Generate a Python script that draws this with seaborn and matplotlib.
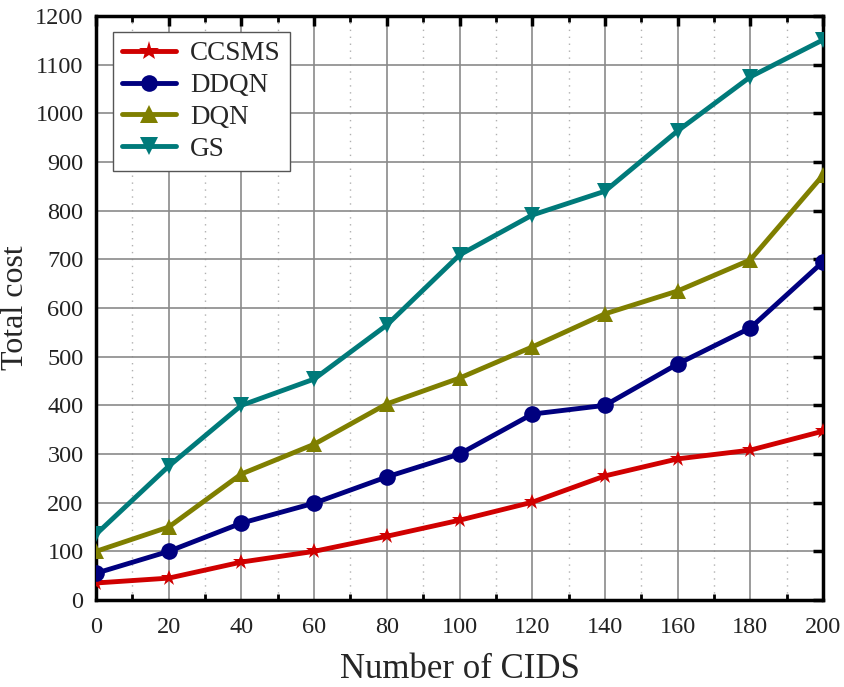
import numpy as np
import pandas as pd
import matplotlib
matplotlib.use("Agg")
import matplotlib.pyplot as plt
from matplotlib.ticker import MultipleLocator
import seaborn as sns

cids = [0, 20, 40, 60, 80, 100, 120, 140, 160, 180, 200]
ccsms = [35, 45, 78, 100, 131, 164, 201, 255, 290, 308, 347]
ddqn = [55, 100, 158, 199, 253, 300, 382, 400, 485, 559, 695]
dqn = [100, 150, 259, 320, 403, 456, 520, 588, 635, 699, 873]
gs = [135, 275, 400, 454, 565, 709, 791, 840, 964, 1075, 1151]

methods = ["CCSMS", "DDQN", "DQN", "GS"]
colors = {"CCSMS": "#d00000", "DDQN": "#00007f", "DQN": "#7f7f00", "GS": "#007a7a"}
markers = {"CCSMS": "*", "DDQN": "o", "DQN": "^", "GS": "v"}
msizes = {"CCSMS": 15, "DDQN": 12, "DQN": 13, "GS": 13}

df = pd.DataFrame({
    "cids": cids * 4,
    "cost": ccsms + ddqn + dqn + gs,
    "method": sum([[m] * len(cids) for m in methods], []),
})

sns.set_style("white")
plt.rcParams["font.family"] = ["Liberation Serif", "DejaVu Serif"]

fig = plt.figure(figsize=(8.45, 6.87), dpi=100)
ax = fig.add_axes([0.1136, 0.1266, 0.8604, 0.8501])

sns.lineplot(data=df, x="cids", y="cost", hue="method", style="method",
             palette=colors, markers=markers, dashes=False, linewidth=3.5,
             markersize=12, markeredgewidth=0, ax=ax, zorder=3)

for line in ax.get_lines():
    lab = line.get_label()
    if lab in msizes:
        line.set_markersize(msizes[lab])

ax.set_xlim(0, 200)
ax.set_ylim(0, 1200)
ax.xaxis.set_major_locator(MultipleLocator(20))
ax.xaxis.set_minor_locator(MultipleLocator(10))
ax.yaxis.set_major_locator(MultipleLocator(100))

ax.grid(which="major", color="#8a8a8a", linewidth=1.2, linestyle="-")
ax.grid(which="minor", axis="x", color="#b0b0b0", linewidth=1.0, linestyle=(0, (1, 4)))
ax.set_axisbelow(True)

for s in ax.spines.values():
    s.set_visible(True)
    s.set_color("black")
    s.set_linewidth(2.5)

ax.tick_params(which="major", direction="in", length=7, width=2.5,
               top=True, right=True, labelsize=17.5, colors="black")
ax.tick_params(axis="x", which="major", pad=12)
ax.tick_params(axis="y", which="major", pad=9)
ax.tick_params(which="minor", direction="in", length=4, width=2,
               top=True, bottom=True, colors="black")
ax.tick_params(which="major", labelcolor="#222222")

ax.set_xlabel("Number of CIDS", fontsize=25, labelpad=11)
ax.set_ylabel("Total cost", fontsize=23, labelpad=4)

handles, labels = ax.get_legend_handles_labels()
for h in handles:
    if h.get_label() in msizes:
        h.set_markersize(msizes[h.get_label()])
leg = ax.legend(handles, labels, loc="upper left", bbox_to_anchor=(0.023, 0.973),
                fontsize=19.5, frameon=True, fancybox=False, edgecolor="#555555",
                framealpha=1, handlelength=2.0, borderpad=0.35, labelspacing=0.25,
                handletextpad=0.5, borderaxespad=0)
leg.get_frame().set_linewidth(1.0)

fig.savefig("out.png", dpi=100)
